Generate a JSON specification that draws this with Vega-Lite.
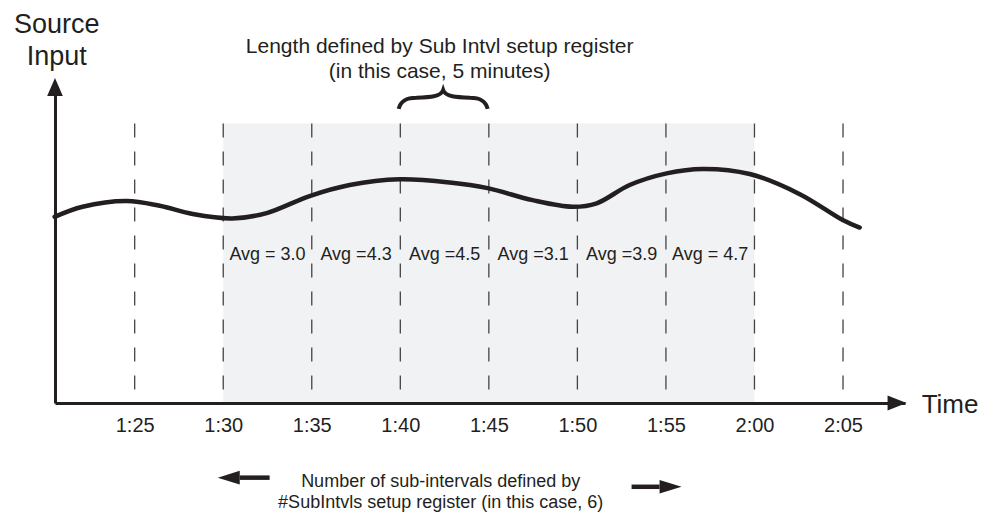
{
  "$schema": "https://vega.github.io/schema/vega-lite/v6.json",
  "width": 850,
  "height": 315,
  "autosize": {"type": "none"},
  "padding": {"left": 55, "top": 88, "right": 82, "bottom": 110},
  "background": "white",
  "config": {
    "view": {"stroke": null},
    "font": "Liberation Sans",
    "text": {"font": "Liberation Sans", "color": "#231f20"}
  },
  "datasets": {
    "curve": [
      {"t": 80.48, "v": 5.91},
      {"t": 82.06, "v": 6.23},
      {"t": 84.55, "v": 6.41},
      {"t": 86.41, "v": 6.26},
      {"t": 88.28, "v": 6.0},
      {"t": 90.5, "v": 5.86},
      {"t": 92.45, "v": 6.03},
      {"t": 94.88, "v": 6.57},
      {"t": 97.14, "v": 6.92},
      {"t": 99.96, "v": 7.1},
      {"t": 102.79, "v": 7.0},
      {"t": 104.93, "v": 6.82},
      {"t": 107.47, "v": 6.44},
      {"t": 109.73, "v": 6.23},
      {"t": 111.09, "v": 6.34},
      {"t": 112.95, "v": 6.92},
      {"t": 115.04, "v": 7.29},
      {"t": 117.07, "v": 7.43},
      {"t": 119.73, "v": 7.27},
      {"t": 122.56, "v": 6.63},
      {"t": 124.98, "v": 5.81},
      {"t": 125.94, "v": 5.57}
    ],
    "grid": [
      {"t": 85, "v": 8.87, "v2": 0},
      {"t": 90, "v": 8.87, "v2": 0},
      {"t": 95, "v": 8.87, "v2": 0},
      {"t": 100, "v": 8.87, "v2": 0},
      {"t": 105, "v": 8.87, "v2": 0},
      {"t": 110, "v": 8.87, "v2": 0},
      {"t": 115, "v": 8.87, "v2": 0},
      {"t": 120, "v": 8.87, "v2": 0},
      {"t": 125, "v": 8.87, "v2": 0}
    ],
    "band": [{"t": 90, "t2": 120, "v": 8.87, "v2": 0}],
    "avg": [
      {"t": 92.5, "v": 4.54, "label": "Avg = 3.0"},
      {"t": 97.5, "v": 4.54, "label": "Avg =4.3"},
      {"t": 102.5, "v": 4.54, "label": "Avg =4.5"},
      {"t": 107.5, "v": 4.54, "label": "Avg =3.1"},
      {"t": 112.5, "v": 4.54, "label": "Avg =3.9"},
      {"t": 117.5, "v": 4.54, "label": "Avg = 4.7"}
    ],
    "yArrow": [{"t": 80.5, "v": 10.03}],
    "xArrow": [{"t": 128.05, "v": 0}],
    "shafts": [
      {"t": 90.93, "t2": 92.62, "v": -2.37, "v2": -2.37},
      {"t": 113.06, "t2": 114.64, "v": -2.66, "v2": -2.66}
    ],
    "leftHead": [{"t": 90.31, "v": -2.37}],
    "rightHead": [{"t": 115.26, "v": -2.66}],
    "brace": [{"t": 102.42, "v": 9.62}],
    "source": [{"t": 80.6, "v": 11.75, "label": ["Source", "Input"]}],
    "topNote": [{"t": 102.22, "v": 11.1, "label": ["Length defined by Sub Intvl setup register", "(in this case, 5 minutes)"]}],
    "timeLabel": [{"t": 129.44, "v": -0.33, "label": "Time"}],
    "bottomNote": [{"t": 102.28, "v": -2.67, "label": ["Number of sub-intervals defined by", "#SubIntvls setup register (in this case, 6)"]}]
  },
  "encoding": {
    "x": {
      "field": "t",
      "type": "quantitative",
      "scale": {"domain": [80.5, 128.5], "nice": false, "zero": false},
      "axis": {
        "values": [85, 90, 95, 100, 105, 110, 115, 120, 125],
        "labelExpr": "floor(datum.value/60) + ':' + (datum.value % 60 < 10 ? '0' : '') + (datum.value % 60)",
        "title": null,
        "ticks": false,
        "tickSize": 0,
        "grid": false,
        "domainWidth": 3,
        "domainColor": "#231f20",
        "labelFont": "Liberation Sans",
        "labelFontSize": 20,
        "labelColor": "#231f20",
        "labelBaseline": "alphabetic",
        "labelPadding": 28,
        "labelDx": 5,
        "labelOverlap": false,
        "labelFlush": false,
        "labelBound": false,
        "zindex": 1
      }
    },
    "y": {
      "field": "v",
      "type": "quantitative",
      "scale": {"domain": [0, 10], "nice": false, "zero": false},
      "axis": {
        "title": null,
        "labels": false,
        "ticks": false,
        "tickSize": 0,
        "grid": false,
        "domainWidth": 3,
        "domainColor": "#231f20",
        "zindex": 1
      }
    }
  },
  "layer": [
    {
      "data": {"name": "band"},
      "mark": {"type": "rect", "color": "#f1f2f4"},
      "encoding": {"x2": {"field": "t2"}, "y2": {"field": "v2"}}
    },
    {
      "data": {"name": "grid"},
      "mark": {"type": "rule", "color": "#444444", "strokeWidth": 1.3, "strokeDash": [14, 14]},
      "encoding": {"y2": {"field": "v2"}}
    },
    {
      "data": {"name": "curve"},
      "mark": {"type": "line", "interpolate": "catmull-rom", "color": "#231f20", "strokeWidth": 4.5, "strokeCap": "round"},
      "encoding": {"order": {"field": "t", "type": "quantitative"}}
    },
    {
      "data": {"name": "avg"},
      "mark": {"type": "text", "fontSize": 18, "align": "center", "baseline": "alphabetic"},
      "encoding": {"text": {"field": "label"}}
    },
    {
      "data": {"name": "yArrow"},
      "mark": {"type": "point", "shape": "M0,-1L0.87,1L-0.87,1Z", "size": 324, "filled": true, "color": "#231f20", "opacity": 1}
    },
    {
      "data": {"name": "xArrow"},
      "mark": {"type": "point", "shape": "M1,0L-1,-0.8L-1,0.8Z", "size": 361, "filled": true, "color": "#231f20", "opacity": 1}
    },
    {
      "data": {"name": "shafts"},
      "mark": {"type": "rule", "color": "#231f20", "strokeWidth": 4.5},
      "encoding": {"x2": {"field": "t2"}, "y2": {"field": "v2"}}
    },
    {
      "data": {"name": "leftHead"},
      "mark": {"type": "point", "shape": "M-1,0L1,-0.62L1,0.62Z", "size": 484, "filled": true, "color": "#231f20", "opacity": 1}
    },
    {
      "data": {"name": "rightHead"},
      "mark": {"type": "point", "shape": "M1,0L-1,-0.62L-1,0.62Z", "size": 484, "filled": true, "color": "#231f20", "opacity": 1}
    },
    {
      "data": {"name": "brace"},
      "mark": {"type": "point", "shape": "M-1,0.2C-0.95,0.0 -0.8,-0.05 -0.6,-0.05C-0.3,-0.06 -0.05,-0.07 0,-0.22C0.05,-0.07 0.3,-0.06 0.6,-0.05C0.8,-0.05 0.95,0 1,0.2", "size": 7921, "filled": false, "color": "#231f20", "strokeWidth": 4, "opacity": 1}
    },
    {
      "data": {"name": "source"},
      "mark": {"type": "text", "fontSize": 27, "lineHeight": 32, "align": "center", "baseline": "alphabetic"},
      "encoding": {"text": {"field": "label"}}
    },
    {
      "data": {"name": "topNote"},
      "mark": {"type": "text", "fontSize": 21, "lineHeight": 25, "align": "center", "baseline": "alphabetic"},
      "encoding": {"text": {"field": "label"}}
    },
    {
      "data": {"name": "timeLabel"},
      "mark": {"type": "text", "fontSize": 26, "align": "left", "baseline": "alphabetic"},
      "encoding": {"text": {"field": "label"}}
    },
    {
      "data": {"name": "bottomNote"},
      "mark": {"type": "text", "fontSize": 18, "lineHeight": 21, "align": "center", "baseline": "alphabetic"},
      "encoding": {"text": {"field": "label"}}
    }
  ]
}
